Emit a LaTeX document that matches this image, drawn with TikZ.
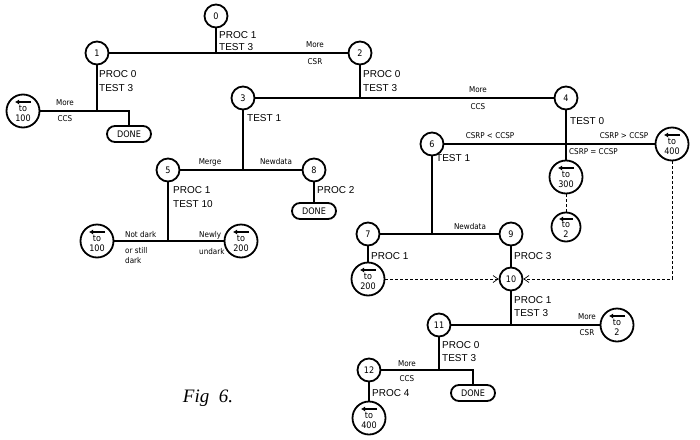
\documentclass[tikz,border=0pt]{standalone}
\usepackage{fontspec}
\setmainfont{Liberation Sans}
\newfontfamily\cond{DejaVu Sans Condensed}
\usetikzlibrary{arrows.meta}
\begin{document}
\begin{tikzpicture}[x=1pt,y=-1pt,
  st/.style={circle,draw,line width=1.8pt,minimum size=23pt,inner sep=0pt,font=\cond\fontsize{9}{9}\selectfont},
  to/.style={circle,draw,line width=1.8pt,minimum size=33pt,inner sep=0pt,align=center,font=\cond\fontsize{9}{10}\selectfont},
  done/.style={rounded corners=8pt,draw,line width=1.8pt,minimum width=44pt,minimum height=16pt,inner sep=0pt,font=\cond\fontsize{9}{9}\selectfont},
  e/.style={line width=2.8pt},
  lb/.style={inner sep=0pt,anchor=west,font=\fontsize{10}{10}\selectfont},
  sm/.style={inner sep=0pt,font=\cond\fontsize{8}{8}\selectfont},
  dsh/.style={densely dashed,line width=0.7pt},
  ar/.style={-{Straight Barb[length=5pt,width=7pt]}}]
\useasboundingbox (0,0) rectangle (700,439);
\newcommand\tonode[3]{\node[to] (#1) at (#2) {\\[1pt]to\\#3};
  \draw[line width=1.6pt,-{Latex[length=4pt,width=5pt]}] ([xshift=8pt,yshift=9pt]#1.center) -- ([xshift=-8pt,yshift=9pt]#1.center);}
% nodes
\node[st] (n0) at (216,16) {0};
\node[st] (n1) at (97,53) {1};
\node[st] (n2) at (360,53) {2};
\node[st] (n3) at (243,98) {3};
\node[st] (n4) at (566,98) {4};
\node[st] (n5) at (168,170) {5};
\node[st] (n6) at (432,144) {6};
\node[st] (n7) at (368,234) {7};
\node[st] (n8) at (314,170) {8};
\node[st] (n9) at (511,234) {9};
\node[st] (n10) at (511,279) {10};
\node[st] (n11) at (439,325) {11};
\node[st] (n12) at (369,370) {12};
\tonode{ta}{23,111}{100}
\tonode{tb}{97,241}{100}
\tonode{tc}{241,241}{200}
\tonode{td}{566,177}{300}
\tonode{tf}{672,144}{400}
\tonode{tg}{368,279}{200}
\tonode{th}{617,325}{2}
\tonode{ti}{369,418}{400}
\node[to,minimum size=29pt] (te) at (566,227) {\\[0pt]to\\2};
\draw[line width=1.6pt,-{Latex[length=4pt,width=5pt]}] ([xshift=7pt,yshift=8pt]te.center) -- ([xshift=-7pt,yshift=8pt]te.center);
\node[done] (d1) at (129,134) {DONE};
\node[done] (d2) at (314,211) {DONE};
\node[done] (d3) at (473,393) {DONE};
% junctions
\coordinate (j0) at (216,53);
\coordinate (j1) at (97,111); \coordinate (k1) at (129,111);
\coordinate (j2) at (360,98);
\coordinate (j3) at (243,170);
\coordinate (j5) at (168,241);
\coordinate (j6) at (432,234);
\coordinate (j10) at (511,325);
\coordinate (j11) at (439,370); \coordinate (k11) at (473,370);
\coordinate (c400) at (672,279);
% edges
\draw[e] (n0) -- (j0);
\draw[e] (n1) -- (n2);
\draw[e] (n1) -- (j1);
\draw[e] (ta) -- (k1) -- (d1);
\draw[e] (n2) -- (j2);
\draw[e] (n3) -- (n4);
\draw[e] (n3) -- (j3);
\draw[e] (n5) -- (n8);
\draw[e] (n5) -- (j5);
\draw[e] (tb) -- (tc);
\draw[e] (n8) -- (d2);
\draw[e] (n4) -- (td);
\draw[e] (n6) -- (tf);
\draw[e] (n6) -- (j6);
\draw[e] (n7) -- (n9);
\draw[e] (n7) -- (tg);
\draw[e] (n9) -- (n10);
\draw[e] (n10) -- (j10);
\draw[e] (n11) -- (th);
\draw[e] (n11) -- (j11);
\draw[e] (n12) -- (k11) -- (d3);
\draw[e] (n12) -- (ti);
\draw[dsh] (td) -- (te);
\draw[dsh,ar] (tg) -- (n10);
\draw[dsh,ar] (tf) -- (c400) -- (n10);
% labels
\node[lb] at (219,35) {PROC 1}; \node[lb] at (219,47) {TEST 3};
\node[sm] at (315,45) {More}; \node[sm] at (315,62) {CSR};
\node[lb] at (99,74) {PROC 0}; \node[lb] at (99,88) {TEST 3};
\node[sm] at (65,103) {More}; \node[sm] at (65,119) {CCS};
\node[lb] at (363,74) {PROC 0}; \node[lb] at (363,88) {TEST 3};
\node[sm] at (478,90) {More}; \node[sm] at (478,107) {CCS};
\node[lb] at (247,118) {TEST 1};
\node[sm] at (210,162) {Merge}; \node[sm] at (276,162) {Newdata};
\node[lb] at (173,190) {PROC 1}; \node[lb] at (173,204) {TEST 10};
\node[sm,anchor=west] at (125,235) {Not dark};
\node[sm,align=left,anchor=north west] at (125,247) {or still\\[2pt]dark};
\node[sm,anchor=west] at (199,235) {Newly};
\node[sm,anchor=west] at (199,252) {undark};
\node[lb] at (317,190) {PROC 2};
\node[lb] at (570,121) {TEST 0};
\node[sm] at (490,136) {CSRP < CCSP}; \node[sm] at (624,136) {CSRP > CCSP};
\node[sm,anchor=west] at (569,152) {CSRP = CCSP};
\node[lb] at (436,158) {TEST 1};
\node[sm] at (470,227) {Newdata};
\node[lb] at (371,256) {PROC 1}; \node[lb] at (514,256) {PROC 3};
\node[lb] at (514,300) {PROC 1}; \node[lb] at (514,313) {TEST 3};
\node[sm] at (587,317) {More}; \node[sm] at (587,333) {CSR};
\node[lb] at (442,345) {PROC 0}; \node[lb] at (442,358) {TEST 3};
\node[sm] at (407,364) {More}; \node[sm] at (407,379) {CCS};
\node[lb] at (372,393) {PROC 4};
\node[inner sep=0pt,font=\fontsize{19}{19}\selectfont\itshape\rmfamily] at (208,398) {\fontspec{Liberation Serif}Fig\ \ 6.};
\end{tikzpicture}
\end{document}
